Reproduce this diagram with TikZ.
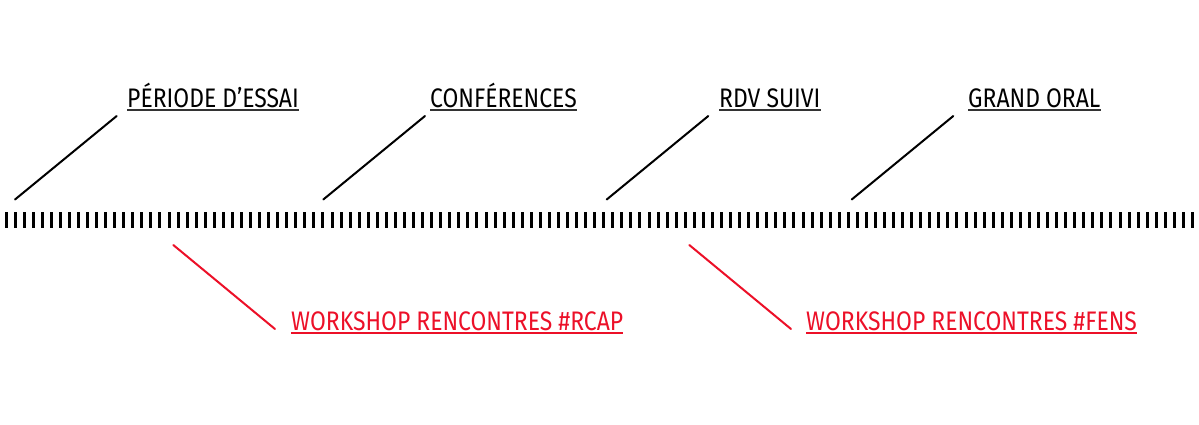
\documentclass[tikz,border=0pt]{standalone}
\usepackage{fontspec}
\setmainfont{Fira Sans}[FakeStretch=0.855]
\usepackage{tikz}
\usetikzlibrary{positioning,calc}
\usepackage{xcolor}
\definecolor{wsred}{RGB}{236,16,40}

\tikzset{
  steplabel/.style={anchor=base west, inner sep=0pt, font=\fontsize{26.8}{30}\selectfont},
  wslabel/.style={steplabel, text=wsred},
  uline/.style={line width=2pt, black!80},
  link/.style={line width=2pt, line cap=round},
  tick/.style={line width=3pt}
}

\begin{document}
\begin{tikzpicture}[x=1pt,y=-1pt]
    \useasboundingbox (0,0) rectangle (1199,424);

    % Time line (ticks)
    \foreach \i in {0,...,131} {
        \draw[tick] ({6+\i*9.057},212) -- ({6+\i*9.057},228);
    }

    % Steps above the line
    \node[steplabel] (essai) at (127,107) {PÉRIODE D’ESSAI};
    \node[steplabel] (conf)  at (430,107) {CONFÉRENCES};
    \node[steplabel] (rdv)   at (719,107) {RDV SUIVI};
    \node[steplabel] (oral)  at (968,107) {GRAND ORAL};

    % Workshops below the line
    \node[wslabel] (rcap) at (291,330) {WORKSHOP RENCONTRES \#RCAP};
    \node[wslabel] (fens) at (806,330) {WORKSHOP RENCONTRES \#FENS};

    % Underlines
    \foreach \n in {essai,conf,rdv,oral} {
        \draw[uline] ([yshift=-3pt]\n.base west) -- ([yshift=-3pt]\n.base east);
    }
    \foreach \n in {rcap,fens} {
        \draw[uline, wsred] ([yshift=-3pt]\n.base west) -- ([yshift=-3pt]\n.base east);
    }

    % Connector ends
    \coordinate (essaiT) at (116.7,116);
    \coordinate (essaiB) at (15,199.5);
    \coordinate (confT)  at (425,116);
    \coordinate (confB)  at (323.3,199.5);
    \coordinate (rdvT)   at (708.3,116);
    \coordinate (rdvB)   at (606.7,199.5);
    \coordinate (oralT)  at (953.3,116);
    \coordinate (oralB)  at (851.7,199.5);
    \coordinate (rcapT)  at (173.3,245);
    \coordinate (rcapB)  at (275,329);
    \coordinate (fensT)  at (689.3,245);
    \coordinate (fensB)  at (791,329);

    % Connectors
    \draw[link] (essaiB) -- (essaiT);
    \draw[link] (confB) -- (confT);
    \draw[link] (rdvB) -- (rdvT);
    \draw[link] (oralB) -- (oralT);
    \draw[link, wsred] (rcapT) -- (rcapB);
    \draw[link, wsred] (fensT) -- (fensB);
\end{tikzpicture}
\end{document}
